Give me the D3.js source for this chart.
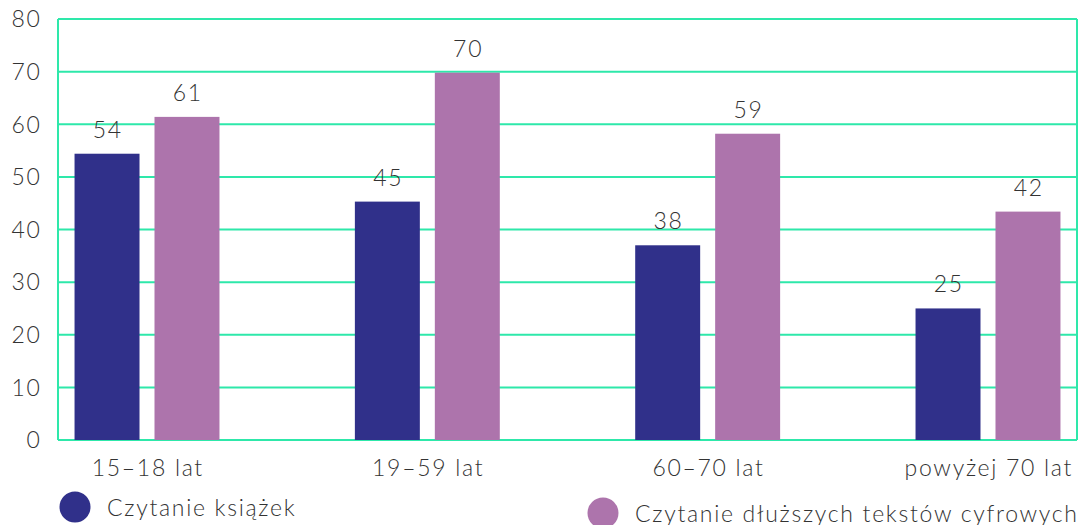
<!DOCTYPE html>
<html><head><meta charset="utf-8">
<script src="https://cdn.jsdelivr.net/npm/d3@7"></script>
<style>
body{margin:0;background:#fff;}
text{font-family:"Lato",sans-serif;font-weight:300;fill:#333;letter-spacing:1.7px;}
</style></head>
<body><svg id="c" width="1082" height="525"></svg>
<script>
const categories = ["15–18 lat", "19–59 lat", "60–70 lat", "powyżej 70 lat"];
const seriesNames = ["Czytanie książek", "Czytanie dłuższych tekstów cyfrowych"];
const booksValues = [54.4, 45.3, 37.0, 25.0];
const digitalValues = [61.4, 69.8, 58.2, 43.4];
const booksLabels = ["54", "45", "38", "25"];
const digitalLabels = ["61", "70", "59", "42"];
const yTicks = [0, 10, 20, 30, 40, 50, 60, 70, 80];
const colors = ["#30308a", "#ad74ac"];

const svg = d3.select("#c");
const L = 58, R = 1077, T = 19, B = 440;
const y = d3.scaleLinear().domain([0, 80]).range([B, T]);
const x0 = d3.scaleBand().domain(categories).range([L, R]).paddingInner(0.483).paddingOuter(0.059);
const x1 = d3.scaleBand().domain([0, 1]).range([0, x0.bandwidth()]).paddingInner(0.1875);
const grid = "#2ee8aa";
const fs = 23;

// gridlines
svg.append("g").selectAll("line").data(yTicks).join("line")
  .attr("x1", L).attr("x2", R).attr("y1", d => y(d)).attr("y2", d => y(d))
  .attr("stroke", grid).attr("stroke-width", 2);
svg.append("line").attr("x1", L).attr("x2", L).attr("y1", T).attr("y2", B).attr("stroke", grid).attr("stroke-width", 2);
svg.append("line").attr("x1", R).attr("x2", R).attr("y1", T).attr("y2", B).attr("stroke", grid).attr("stroke-width", 2);

// y labels
svg.append("g").selectAll("text").data(yTicks).join("text")
  .attr("x", 41.5).attr("y", d => y(d)).attr("dy", "0.36em")
  .attr("text-anchor", "end").attr("font-size", fs).text(d => d);

const series = [booksValues, digitalValues];
const labels = [booksLabels, digitalLabels];
series.forEach((vals, s) => {
  const g = svg.append("g");
  g.selectAll("rect").data(vals).join("rect")
    .attr("x", (d, i) => x0(categories[i]) + x1(s))
    .attr("width", x1.bandwidth())
    .attr("y", d => y(d)).attr("height", d => B - y(d))
    .attr("fill", colors[s]);
  g.selectAll("text").data(vals).join("text")
    .attr("x", (d, i) => x0(categories[i]) + x1(s) + x1.bandwidth() / 2 + 0.85)
    .attr("y", d => y(d) - 16)
    .attr("text-anchor", "middle").attr("font-size", fs)
    .text((d, i) => labels[s][i]);
});

// category labels
svg.append("g").selectAll("text").data(categories).join("text")
  .attr("x", d => x0(d) + x0.bandwidth() / 2 + 0.85).attr("y", 476)
  .attr("text-anchor", "middle").attr("font-size", fs).text(d => d);

// legend
const leg = [{x: 75, y: 507}, {x: 603, y: 513}];
seriesNames.forEach((n, i) => {
  svg.append("circle").attr("cx", leg[i].x).attr("cy", leg[i].y).attr("r", 15.5).attr("fill", colors[i]);
  svg.append("text").attr("x", leg[i].x + 32).attr("y", leg[i].y + 9).attr("font-size", fs).text(n);
});
</script></body></html>
